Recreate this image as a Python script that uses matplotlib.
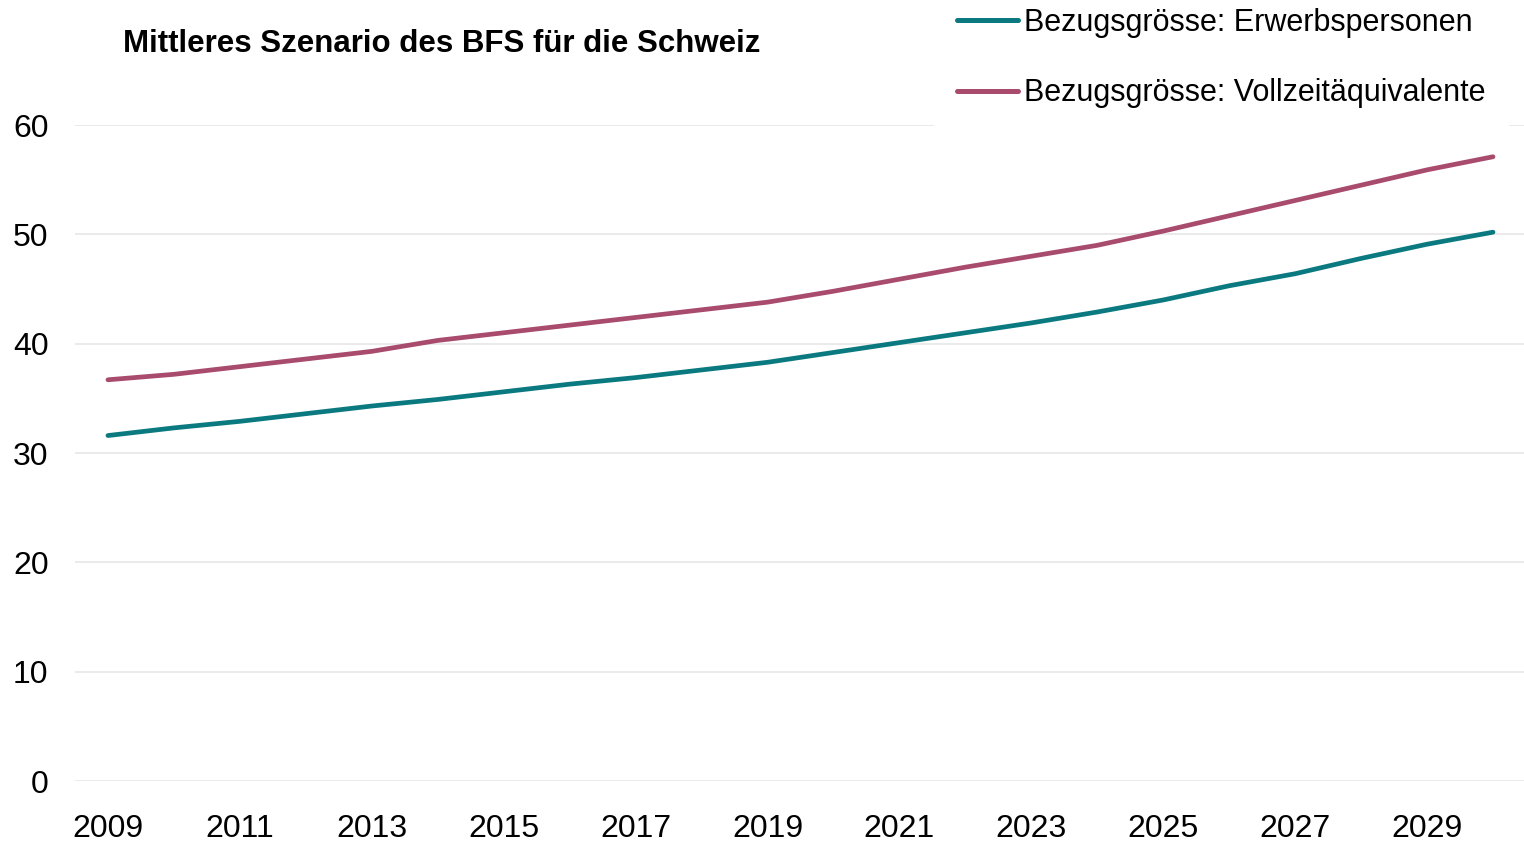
import matplotlib
matplotlib.use("Agg")
import matplotlib.pyplot as plt

# ── Data ──────────────────────────────────────────────────────────────────────
YEARS = list(range(2009, 2031))
ERWERBSPERSONEN = [31.6, 32.3, 32.9, 33.6, 34.3, 34.9, 35.6, 36.3, 36.9, 37.6, 38.3,
                   39.2, 40.1, 41.0, 41.9, 42.9, 44.0, 45.3, 46.4, 47.8, 49.1, 50.2]
VOLLZEIT = [36.7, 37.2, 37.9, 38.6, 39.3, 40.3, 41.0, 41.7, 42.4, 43.1, 43.8,
            44.8, 45.9, 47.0, 48.0, 49.0, 50.3, 51.7, 53.1, 54.5, 55.9, 57.1]
LABELS = ["Bezugsgrösse: Erwerbspersonen", "Bezugsgrösse: Vollzeitäquivalente"]
TITLE = "Mittleres Szenario des BFS für die Schweiz"
XTICKS = list(range(2009, 2030, 2))
YTICKS = list(range(0, 61, 10))

# ── Style ─────────────────────────────────────────────────────────────────────
TEAL = "#0b7a80"
PLUM = "#a84b6d"
GRID = "#e6e6e6"

plt.rcParams["font.family"] = ["Liberation Sans", "DejaVu Sans"]

fig = plt.figure(figsize=(15.24, 8.42), dpi=100, facecolor="white")
ax = fig.add_axes([0.0492, 0.0724, 0.9508, 0.7791])

ax.plot(YEARS, ERWERBSPERSONEN, color=TEAL, lw=3.4, solid_capstyle="round",
        label=LABELS[0], zorder=3)
ax.plot(YEARS, VOLLZEIT, color=PLUM, lw=3.4, solid_capstyle="round",
        label=LABELS[1], zorder=3)

ax.set_xlim(2008.5, 2030.47)
ax.set_ylim(0, 60)
ax.set_xticks(XTICKS)
ax.set_yticks(YTICKS)
ax.tick_params(length=0, labelsize=23)
ax.tick_params(axis="x", pad=24)
ax.tick_params(axis="y", pad=19)

ax.grid(axis="y", color=GRID, lw=1.2, zorder=0)
for s in ax.spines.values():
    s.set_visible(False)

fig.text(0.2897, 0.948, TITLE, fontsize=22.5, fontweight="bold",
         ha="center", va="center")

# white legend box that also hides the right part of the top gridline
leg = fig.legend(loc="upper right", bbox_to_anchor=(0.990, 1.018),
                 fontsize=22, frameon=True, framealpha=1, facecolor="white",
                 edgecolor="none", handlelength=2.0, handletextpad=0.2,
                 labelspacing=1.33, borderpad=0.75, borderaxespad=0)
leg.set_zorder(10)
for line in leg.get_lines():
    line.set_linewidth(3.6)

fig.savefig("out.png", dpi=100, facecolor="white")
